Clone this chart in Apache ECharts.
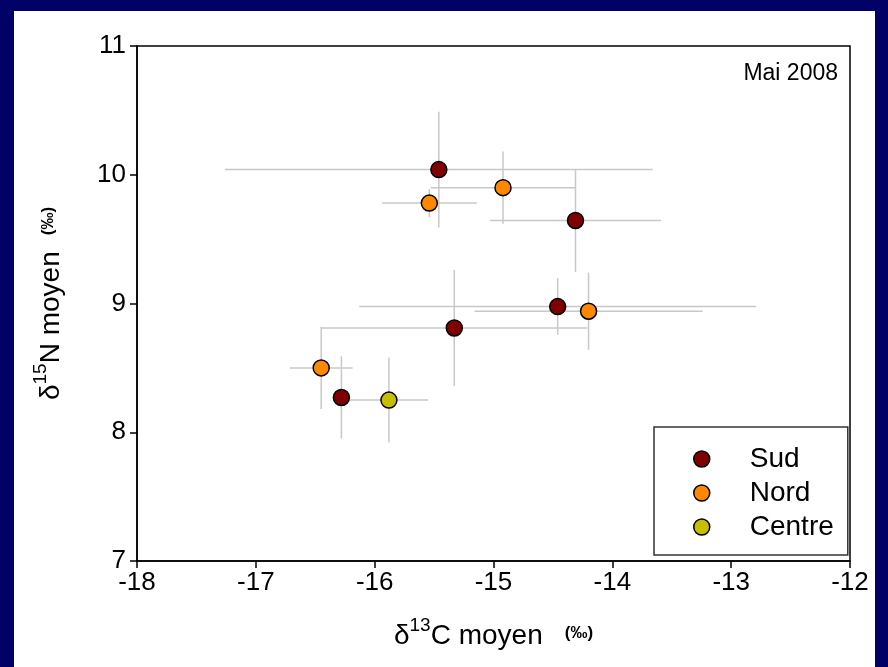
<!DOCTYPE html>
<html>
<head>
<meta charset="utf-8">
<script src="https://cdn.jsdelivr.net/npm/echarts@6/dist/echarts.min.js"></script>
<style>
  html, body { margin: 0; padding: 0; background: #000066; }
  #frame { position: absolute; left: 0; top: 0; width: 888px; height: 667px; background: #000066; }
  #chart { position: absolute; left: 14px; top: 11px; width: 861px; height: 656px; background: #ffffff; }
</style>
</head>
<body>
<div id="frame"></div>
<div id="chart"></div>
<script>
// Mean isotope values (δ13C, δ15N) with their spread, per site group
const sudX     = [-15.46, -14.31, -14.46, -15.33, -16.28];
const sudY     = [10.04, 9.645, 8.976, 8.81, 8.27];
const sudXErr  = [1.80, 0.72, 1.67, 1.12, 0.07];
const sudYErr  = [0.45, 0.40, 0.22, 0.45, 0.32];

const nordX    = [-15.54, -14.92, -14.20, -16.45];
const nordY    = [9.78, 9.90, 8.94, 8.50];
const nordXErr = [0.40, 0.61, 0.96, 0.265];
const nordYErr = [0.11, 0.28, 0.30, 0.32];

const centreX    = [-15.88];
const centreY    = [8.25];
const centreXErr = [0.33];
const centreYErr = [0.33];

const groupNames = ['Sud', 'Nord', 'Centre'];
const groupColors = ['#7f0000', '#ff8800', '#c8be00'];

const xTicks = [-18, -17, -16, -15, -14, -13, -12];
const yTicks = [7, 8, 9, 10, 11];

const FONT = '"Liberation Sans", Arial, sans-serif';

function points(xs, ys) {
  return xs.map((x, i) => [x, ys[i]]);
}
function errRows(xs, ys, ex, ey) {
  return xs.map((x, i) => [x, ys[i], ex[i], ey[i]]);
}

const groups = [
  { x: sudX, y: sudY, ex: sudXErr, ey: sudYErr },
  { x: nordX, y: nordY, ex: nordXErr, ey: nordYErr },
  { x: centreX, y: centreY, ex: centreXErr, ey: centreYErr }
];

// all error bars in one custom series, drawn under the markers
const errData = [];
groups.forEach(g => errRows(g.x, g.y, g.ex, g.ey).forEach(r => errData.push(r)));

const errStyle = { stroke: '#c8c8c8', lineWidth: 1.5 };

const errorSeries = {
  type: 'custom',
  name: 'err',
  z: 1,
  silent: true,
  data: errData,
  encode: { x: 0, y: 1 },
  renderItem: function (params, api) {
    const x = api.value(0), y = api.value(1), ex = api.value(2), ey = api.value(3);
    const l = api.coord([x - ex, y]);
    const r = api.coord([x + ex, y]);
    const t = api.coord([x, y + ey]);
    const b = api.coord([x, y - ey]);
    return {
      type: 'group',
      children: [
        { type: 'line', shape: { x1: l[0], y1: l[1], x2: r[0], y2: r[1] }, style: errStyle },
        { type: 'line', shape: { x1: t[0], y1: t[1], x2: b[0], y2: b[1] }, style: errStyle }
      ]
    };
  }
};

const scatterSeries = groups.map((g, i) => ({
  type: 'scatter',
  name: groupNames[i],
  z: 3,
  symbol: 'circle',
  symbolSize: 16,
  data: points(g.x, g.y),
  itemStyle: { color: groupColors[i], borderColor: '#000', borderWidth: 1.5, opacity: 1 },
  emphasis: { disabled: true }
}));

function titleRich(gap) {
  return {
    d: { fontSize: 28, fontFamily: FONT, lineHeight: 34, verticalAlign: 'bottom' },
    sup: { fontSize: 19, fontFamily: FONT, lineHeight: 18, verticalAlign: 'top' },
    t: { fontSize: 28, fontFamily: FONT, lineHeight: 34, verticalAlign: 'bottom' },
    g: { fontSize: 28, fontFamily: FONT, width: gap },
    s: { fontSize: 17, fontWeight: 'bold', fontFamily: FONT, lineHeight: 28, verticalAlign: 'middle' }
  };
}

const chart = echarts.init(document.getElementById('chart'), null, { renderer: 'canvas' });

chart.setOption({
  backgroundColor: '#ffffff',
  animation: false,
  grid: {
    left: 123, top: 35, right: 25, bottom: 106,
    show: true, borderColor: '#000', borderWidth: 1.5, backgroundColor: 'transparent'
  },
  xAxis: {
    type: 'value',
    min: xTicks[0], max: xTicks[xTicks.length - 1], interval: 1,
    axisLine: { show: true, onZero: false, lineStyle: { color: '#000', width: 1.5 } },
    axisTick: { show: true, length: 7, lineStyle: { color: '#000', width: 1.5 } },
    axisLabel: { color: '#000', fontSize: 26, fontFamily: FONT, margin: 9 },
    splitLine: { show: false },
    name: '{d|δ}{sup|13}{t|C moyen}{g| }{s|(‰)}',
    nameLocation: 'middle',
    nameGap: 55,
    nameTextStyle: { color: '#000', rich: titleRich(22) }
  },
  yAxis: {
    type: 'value',
    min: yTicks[0], max: yTicks[yTicks.length - 1], interval: 1,
    axisLine: { show: true, onZero: false, lineStyle: { color: '#000', width: 1.5 } },
    axisTick: { show: true, length: 7, lineStyle: { color: '#000', width: 1.5 } },
    axisLabel: { color: '#000', fontSize: 26, fontFamily: FONT, margin: 11 },
    splitLine: { show: false },
    name: '{d|δ}{sup|15}{t|N moyen}{g| }{s|(‰)}',
    nameLocation: 'middle',
    nameRotate: 90,
    nameGap: 72,
    nameTextStyle: { color: '#000', rich: titleRich(16) }
  },
  legend: {
    data: groupNames.map(n => ({ name: n, icon: 'circle' })),
    orient: 'vertical',
    left: 640, top: 416,
    itemWidth: 16, itemHeight: 16,
    itemGap: 6,
    padding: [18, 14, 14, 39],
    borderColor: '#333',
    borderWidth: 1.5,
    backgroundColor: '#fff',
    selectedMode: false,
    itemStyle: { borderColor: '#000', borderWidth: 1.5 },
    textStyle: { color: '#000', fontSize: 28, fontFamily: FONT, lineHeight: 28, padding: [0, 0, 0, 35] }
  },
  graphic: [
    {
      type: 'text',
      right: 37, top: 51,
      style: { text: 'Mai 2008', fill: '#000', font: '23px ' + FONT }
    }
  ],
  series: [errorSeries].concat(scatterSeries)
});
</script>
</body>
</html>
